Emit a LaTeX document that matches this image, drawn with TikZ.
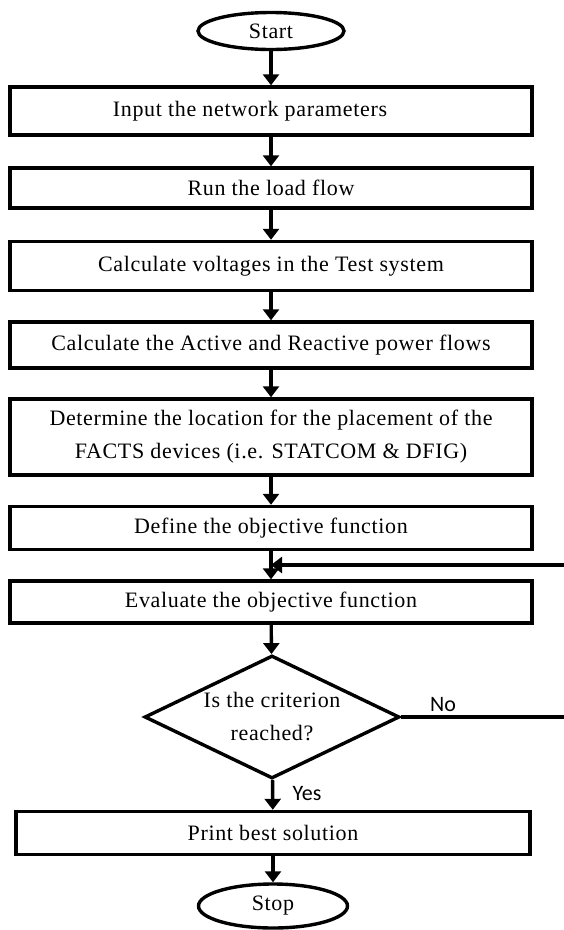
\documentclass[tikz,border=0pt]{standalone}
\usepackage{fontspec}
\setmainfont{Liberation Serif}
\newfontfamily\boxfont[LetterSpace=3]{Liberation Serif}
\newfontfamily\labelfont{Carlito}
\usepackage{tikz}
\usetikzlibrary{arrows.meta, positioning, shapes.geometric}

\begin{document}
\begin{tikzpicture}[x=1pt, y=-1pt,
  every node/.style={font=\boxfont\fontsize{22}{33}\selectfont},
  procbox/.style={draw, line width=3.4pt, rectangle, minimum width=522pt, inner sep=0pt, align=center},
  terminal/.style={draw, line width=3.4pt, ellipse, inner sep=0pt},
  decision/.style={draw, line width=3.4pt, diamond, minimum width=255pt, minimum height=123pt, inner sep=0pt},
  flow/.style={line width=3.4pt, -{Triangle[length=11pt, width=16pt]}},
  answer/.style={font=\labelfont\fontsize{22}{26}\selectfont}]
  \useasboundingbox (0,0) rectangle (563,930);
  % Start
  \node[terminal, minimum width=146pt, minimum height=37pt] (start) at (271,31) {Start};
  % Steps
  \foreach \name/\ypos/\hgt/\txt in {
    input/111/48/{Input the network parameters\hspace*{42pt}},
    loadflow/188/40/{Run the load flow},
    voltages/266/49/{Calculate voltages in the Test system},
    powerflows/345/46/{Calculate the Active and Reactive power flows},
    location/437/76/{Determine the location for the placement of the\\FACTS devices (i.e. STATCOM \& DFIG)},
    objective/528/43/{Define the objective function},
    evaluate/602/42/{Evaluate the objective function}} {
    \node[procbox, minimum height=\hgt pt] (\name) at (271,\ypos) {\txt};
  }
  % Decision
  \node[decision, label={[align=center]center:Is the criterion\\reached?}] (criterion) at (272,717) {};
  \node[procbox, minimum width=514pt, minimum height=43pt] (print) at (273,833) {Print best solution};
  % Stop
  \node[terminal, minimum width=149pt, minimum height=44pt] (stop) at (273,906) {Stop};
  \coordinate (merge) at (271,565);
  % Arrows
  \foreach \a/\b in {start/input, input/loadflow, loadflow/voltages, voltages/powerflows,
    powerflows/location, location/objective, objective/evaluate, evaluate/criterion,
    criterion/print, print/stop}
    \draw[flow] (\a) -- (\b);
  % Loop back
  \draw[flow] (criterion.east) -- ++(185,0) |- (merge);
  \node[answer] (no) at (443,705) {No};
  \node[answer] (yes) at (307,794) {Yes};
\end{tikzpicture}
\end{document}
